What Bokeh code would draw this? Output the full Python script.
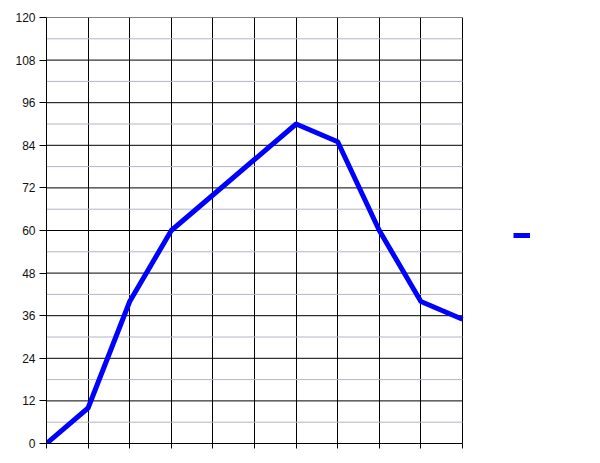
from bokeh.plotting import figure
from bokeh.models import Range1d, FixedTicker, Legend, LegendItem, ColumnDataSource
from bokeh.embed import file_html
from bokeh.resources import INLINE

x_values = [0, 1, 2, 3, 4, 5, 6, 7, 8, 9, 10]
y_values = [0, 10, 40, 60, 70, 80, 90, 85, 60, 40, 35]
y_ticks = [0, 12, 24, 36, 48, 60, 72, 84, 96, 108, 120]
y_minor = [6, 18, 30, 42, 54, 66, 78, 90, 102, 114]

src = ColumnDataSource(dict(x=x_values, y=y_values))

# frame is widened to hold the legend; the chart itself spans x 0..10 (416 px)
x_end = x_values[-1] * 544 / 416
p = figure(frame_width=544, frame_height=426, output_backend="svg", toolbar_location=None,
           x_range=Range1d(0, x_end), y_range=Range1d(0, 120),
           min_border_left=46, min_border_top=17, min_border_right=2, min_border_bottom=12)
p.background_fill_color = "white"
p.border_fill_color = "white"
p.outline_line_color = None

# horizontal grid lines limited to the chart's x extent
p.ygrid.visible = False
p.segment(x0=x_values[0], x1=x_values[-1], y0=y_minor, y1=y_minor,
          line_color="#b4b4c4", line_width=1)
p.segment(x0=x_values[0], x1=x_values[-1], y0=y_ticks, y1=y_ticks,
          line_color="black", line_width=1)

r = p.line("x", "y", source=src, line_color="#0000FF", line_width=5, line_join="round")

p.yaxis.ticker = FixedTicker(ticks=y_ticks)
p.xaxis.ticker = FixedTicker(ticks=x_values)
p.xaxis.bounds = (x_values[0], x_values[-1])
p.xgrid.grid_line_color = "black"
p.xgrid.grid_line_alpha = 1

for ax in (p.xaxis[0], p.yaxis[0]):
    ax.axis_line_color = "black"
    ax.major_tick_line_color = "black"
    ax.minor_tick_line_color = None
    ax.major_tick_in = 0
    ax.major_tick_out = 7
p.xaxis.major_tick_out = 5
p.xaxis.major_label_overrides = {v: "" for v in x_values}
p.yaxis.major_label_text_font = "Liberation Sans"
p.yaxis.major_label_text_font_size = "12px"
p.yaxis.major_label_text_color = "#111111"
p.yaxis.major_label_standoff = 4

legend = Legend(items=[LegendItem(label=" ", renderers=[r])], location=(467, 198),
                border_line_alpha=0, background_fill_alpha=0, glyph_width=17, glyph_height=20,
                label_text_font_size="10px", label_standoff=0, label_width=0,
                margin=0, padding=0, spacing=0)
p.add_layout(legend, "center")

open("out.html", "w").write(file_html(p, INLINE))
